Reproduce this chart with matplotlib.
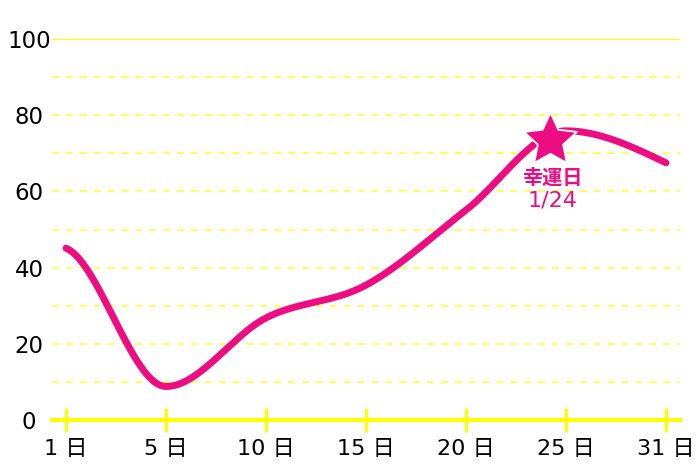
import numpy as np
import matplotlib
matplotlib.use("Agg")
import matplotlib.pyplot as plt
from matplotlib.path import Path

plt.rcParams['font.family'] = ['DejaVu Sans', 'Noto Sans CJK JP']
plt.rcParams['lines.scale_dashes'] = False

# ---- data ----
day_labels = ["1 日", "5 日", "10 日", "15 日", "20 日", "25 日", "31 日"]
tick_days = [1, 5, 10, 15, 20, 25, 31]
values = [45.1, 8.8, 26.8, 35.4, 55.1, 75.9, 67.5]
y_ticks = [0, 20, 40, 60, 80, 100]
grid_levels = [10, 20, 30, 40, 50, 60, 70, 80, 90]
lucky_day = 24
lucky_value = 73.5
lucky_title = "幸運日"
lucky_date = "1/24"

PINK = "#EE0C83"
YELLOW = "#FFFF00"
LIGHT_YELLOW = "#FFFF60"


def monotone_curve(x, y, start_factor=0.3, end_factor=1.5, n=40):
    x = np.asarray(x, float)
    y = np.asarray(y, float)
    h = np.diff(x)
    s = np.diff(y) / h
    t = np.zeros_like(y)
    for i in range(1, len(y) - 1):
        p = (s[i - 1] * h[i] + s[i] * h[i - 1]) / (h[i - 1] + h[i])
        t[i] = (np.sign(s[i - 1]) + np.sign(s[i])) * min(abs(s[i - 1]), abs(s[i]), 0.5 * abs(p))
    t[0] = start_factor * s[0]
    t[-1] = end_factor * s[-1]
    xs, ys = [], []
    for i in range(len(h)):
        u = np.linspace(0, 1, n, endpoint=(i == len(h) - 1))
        h00 = 2 * u**3 - 3 * u**2 + 1
        h10 = u**3 - 2 * u**2 + u
        h01 = -2 * u**3 + 3 * u**2
        h11 = u**3 - u**2
        xs.append(x[i] + u * h[i])
        ys.append(h00 * y[i] + h10 * h[i] * t[i] + h01 * y[i + 1] + h11 * h[i] * t[i + 1])
    return np.concatenate(xs), np.concatenate(ys)


def star_marker(inner=0.48):
    ang = np.pi / 2 + np.arange(10) * np.pi / 5
    r = np.where(np.arange(10) % 2 == 0, 1.0, inner)
    verts = np.column_stack([r * np.cos(ang), r * np.sin(ang)])
    verts = np.vstack([verts, verts[:1]])
    codes = [Path.MOVETO] + [Path.LINETO] * 9 + [Path.CLOSEPOLY]
    return Path(verts, codes)


W, H = 700, 467
fig = plt.figure(figsize=(W / 100, H / 100), dpi=100)
left, right = 52 / W, 680 / W
bottom, top = (H - 420) / H, (H - 39) / H
ax = fig.add_axes([left, bottom, right - left, top - bottom])

idx = np.arange(len(tick_days))
px_per_idx = 100.0
ax.set_xlim(-(66 - 52) / px_per_idx, 6 + (680 - 666) / px_per_idx)
ax.set_ylim(0, 100)

for s in ax.spines.values():
    s.set_visible(False)

# grid lines
for g in grid_levels:
    ax.axhline(g, color=LIGHT_YELLOW, lw=1.5, dashes=(5, 5), zorder=1)
ax.axhline(100, color=YELLOW, lw=1.6, zorder=1)
ax.axhline(0, color=YELLOW, lw=3, zorder=2, clip_on=False)

# x ticks
ax.set_xticks(idx)
ax.set_xticklabels(day_labels)
ax.tick_params(axis='x', direction='inout', length=17, width=2.2, color=YELLOW,
               pad=5, labelsize=16, labelcolor='black')
ax.set_yticks(y_ticks)
ax.set_yticklabels([str(v) for v in y_ticks])
ax.tick_params(axis='y', length=0, pad=16.5, labelsize=16.5, labelcolor='black')
for lab in ax.get_yticklabels():
    lab.set_ha('center')

# curve
cx, cy = monotone_curve(idx, values)
ax.plot(cx, cy, color=PINK, lw=5, solid_capstyle='round', zorder=3, clip_on=False)

# lucky star
lucky_x = np.interp(lucky_day, tick_days, idx) + 0.04
ax.plot([lucky_x], [lucky_value], marker=star_marker(), markersize=40, color=PINK,
        markeredgecolor='white', markeredgewidth=1.3, zorder=4, clip_on=False)
ax.annotate(lucky_title, xy=(lucky_x, lucky_value), xytext=(2, -37),
            textcoords='offset pixels', ha='center', va='center',
            color=PINK, fontsize=14.5, fontweight='bold',
            family=['Noto Sans CJK JP'], zorder=5)
ax.annotate(lucky_date, xy=(lucky_x, lucky_value), xytext=(2, -61),
            textcoords='offset pixels', ha='center', va='center',
            color=PINK, fontsize=16, zorder=5)

fig.savefig("out.png", dpi=100)
